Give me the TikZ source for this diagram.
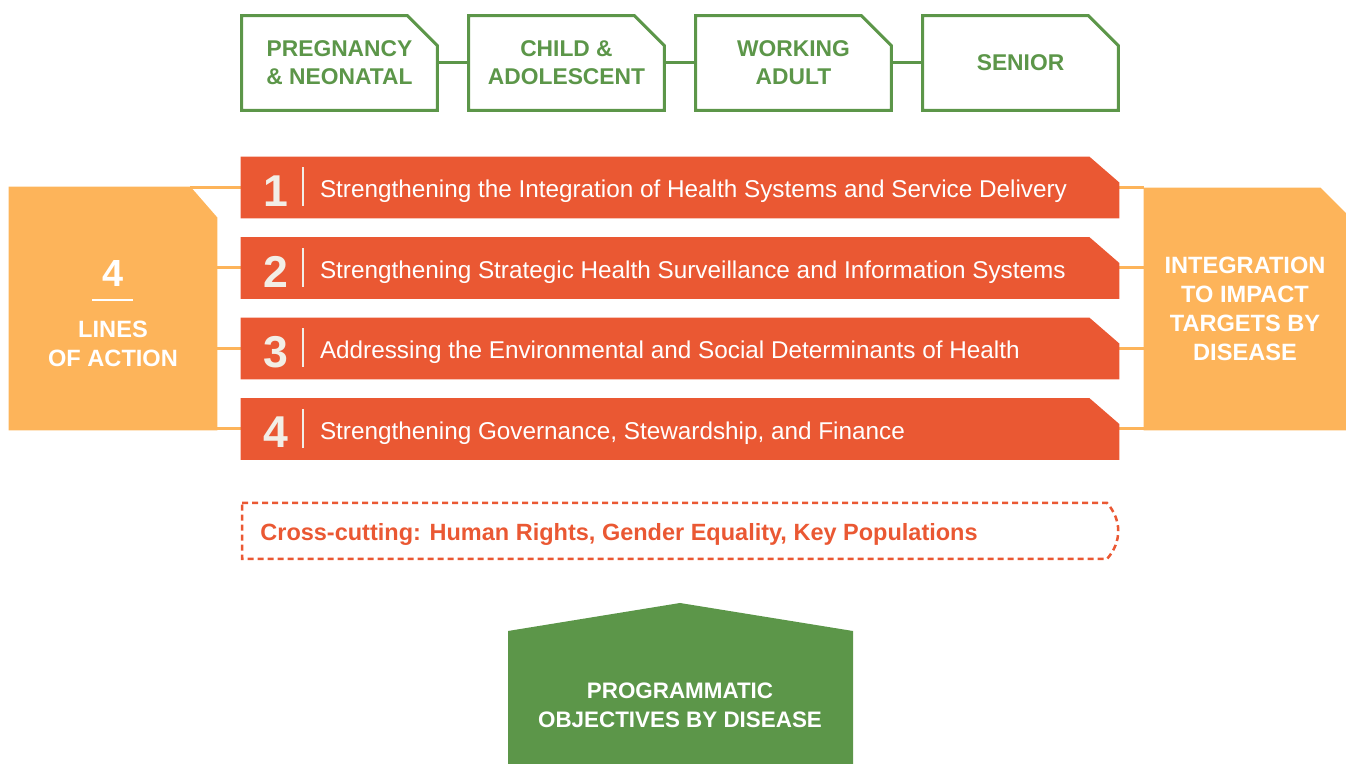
\documentclass[tikz,border=0pt]{standalone}
\usepackage{fontspec}
\setmainfont{Liberation Sans}
\usetikzlibrary{backgrounds}

\definecolor{leafgreen}{HTML}{5C9649}
\definecolor{brickred}{HTML}{EA5833}
\definecolor{amber}{HTML}{FDB45A}
\definecolor{cream}{HTML}{F2EEE6}

\begin{document}
\begin{tikzpicture}[x=0.5pt, y=-0.5pt,
    stage/.style={minimum width=97.5pt, minimum height=47pt, align=center,
      text=leafgreen, font=\bfseries\fontsize{11.4}{14}\selectfont},
    bar/.style={minimum width=439pt, minimum height=30.5pt},
    num/.style={text=cream, font=\bfseries\fontsize{22.3}{24}\selectfont},
    lbl/.style={anchor=base west, inner sep=0pt, text=white,
      font=\fontsize{12.15}{14}\selectfont},
    side/.style={align=center, text=white, font=\bfseries\fontsize{11.8}{14.5}\selectfont},
    gline/.style={draw=leafgreen, line width=1.5pt},
    oline/.style={draw=amber, line width=1.5pt},
    divider/.style={draw=cream, line width=0.9pt}]
  \useasboundingbox (0,0) rectangle (1346,764);

  % top row: life stages
  \node[stage] (g1) at (339.5,63) {PREGNANCY\\\& NEONATAL};
  \node[stage, node distance=113.5pt, right of=g1] (g2) {CHILD \&\\ADOLESCENT};
  \node[stage, node distance=113.5pt, right of=g2] (g3) {WORKING\\ADULT};
  \node[stage, node distance=113.5pt, right of=g3] (g4) {SENIOR};

  % the four lines of action
  \node[bar] (bar1) at (680,187.5) {};
  \node[bar, node distance=40.25pt, below of=bar1] (bar2) {};
  \node[bar, node distance=40.25pt, below of=bar2] (bar3) {};
  \node[bar, node distance=40.25pt, below of=bar3] (bar4) {};

  \node[num] (n1) at ([xshift=17.5pt,yshift=-1.75pt]bar1.west) {1};
  \node[num] (n2) at ([xshift=17.5pt,yshift=-1.75pt]bar2.west) {2};
  \node[num] (n3) at ([xshift=17.5pt,yshift=-1.75pt]bar3.west) {3};
  \node[num] (n4) at ([xshift=17.5pt,yshift=-1.75pt]bar4.west) {4};

  \node[lbl] (t1) at ([xshift=39.5pt,yshift=-5.25pt]bar1.west) {Strengthening the Integration of Health Systems and Service Delivery};
  \node[lbl] (t2) at ([xshift=39.5pt,yshift=-5.25pt]bar2.west) {Strengthening Strategic Health Surveillance and Information Systems};
  \node[lbl] (t3) at ([xshift=39.5pt,yshift=-5.25pt]bar3.west) {Addressing the Environmental and Social Determinants of Health};
  \node[lbl] (t4) at ([xshift=39.5pt,yshift=-5.25pt]bar4.west) {Strengthening Governance, Stewardship, and Finance};

  \foreach \n in {bar1,bar2,bar3,bar4}
    \draw[divider] ([xshift=31pt,yshift=10pt]\n.west) -- ([xshift=31pt,yshift=-9.5pt]\n.west);

  % side boxes
  \node[minimum width=104pt, minimum height=121.5pt] (lines) at (113,308.5) {};
  \node[side, font=\bfseries\fontsize{18.9}{20}\selectfont] (four) at (113,273.5) {4};
  \node[side, font=\bfseries\fontsize{11.8}{14.5}\selectfont] (loa) at (113,343.5) {LINES\\OF ACTION};
  \draw[white, line width=1pt] (92,300) -- (133,300);

  \node[side, minimum width=101pt, minimum height=121pt] (integ) at (1245,309)
    {INTEGRATION\\TO IMPACT\\TARGETS BY\\DISEASE};

  % cross-cutting
  \node[anchor=base west, inner sep=0pt, text=brickred,
    font=\bfseries\fontsize{11.75}{14}\selectfont] (cross) at (260,541)
    {Cross-cutting: Human Rights, Gender Equality, Key Populations};
  \draw[brickred, line width=1.25pt, dash pattern=on 3pt off 2pt]
    (242,503) -- (1107,503) .. controls (1122,520) and (1122,542) .. (1107,559)
    -- (242,559) -- cycle;

  % programmatic objectives
  \node[side, font=\bfseries\fontsize{11.2}{14.5}\selectfont] (prog) at (680,705.5)
    {PROGRAMMATIC\\OBJECTIVES BY DISEASE};

  \begin{pgfonlayer}{background}
    % connectors
    \draw[gline] (g1) -- (g2);
    \draw[gline] (g2) -- (g3);
    \draw[gline] (g3) -- (g4);

    \draw[oline] (bar1.west) -- ++(-51,0);
    \draw[oline] (bar2.west) -- (bar2.west -| lines.east);
    \draw[oline] (bar3.west) -- (bar3.west -| lines.east);
    \draw[oline] (bar4.west) -- (bar4.west -| lines.east);

    \draw[oline] (bar1.east) -- (bar1.east -| integ.west);
    \draw[oline] (bar2.east) -- (bar2.east -| integ.west);
    \draw[oline] (bar3.east) -- (bar3.east -| integ.west);
    \draw[oline] (bar4.east) -- (bar4.east -| integ.west);

    % shapes with a cut corner
    \foreach \n in {g1,g2,g3,g4}
      \draw[gline] (\n.south west) -- (\n.north west) -- ([xshift=-15pt]\n.north east)
        -- ([yshift=-15pt]\n.north east) -- (\n.south east) -- cycle;
    \foreach \n in {bar1,bar2,bar3,bar4}
      \fill[brickred] (\n.south west) -- (\n.north west) -- ([xshift=-15pt]\n.north east)
        -- ([yshift=-13pt]\n.north east) -- (\n.south east) -- cycle;
    \fill[amber] (lines.south west) -- (lines.north west) -- ([xshift=-13.5pt]lines.north east)
      -- ([yshift=-15.5pt]lines.north east) -- (lines.south east) -- cycle;
    \fill[amber] (integ.south west) -- (integ.north west) -- ([xshift=-13pt]integ.north east)
      -- ([yshift=-13pt]integ.north east) -- (integ.south east) -- cycle;

    \fill[leafgreen] (508,764) -- (508,631) -- (680,603) -- (853,631) -- (853,764) -- cycle;
  \end{pgfonlayer}
\end{tikzpicture}
\end{document}
